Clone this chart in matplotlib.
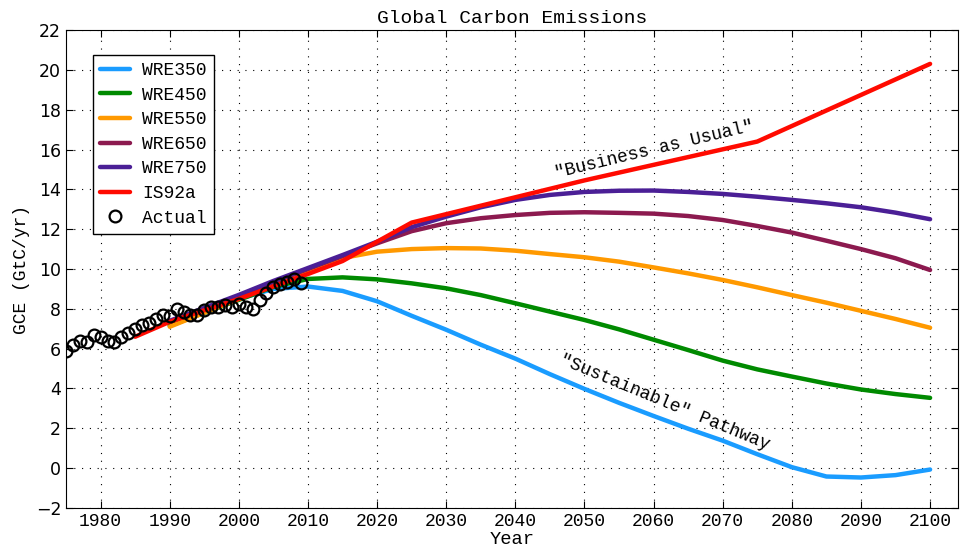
import numpy as np
import matplotlib.pyplot as plt

# emission pathways (GtC/yr), every 5 years
wre_years = np.arange(1990, 2101, 5)
wre350 = [7.2, 7.85, 8.5, 9.0, 9.12, 8.9, 8.38, 7.65, 6.95, 6.2, 5.5, 4.72,
          3.98, 3.28, 2.62, 1.98, 1.38, 0.7, 0.05, -0.42, -0.47, -0.35, -0.07]
wre450 = [7.15, 7.8, 8.45, 9.1, 9.5, 9.58, 9.48, 9.28, 9.03, 8.69, 8.28, 7.86,
          7.44, 6.97, 6.45, 5.93, 5.4, 4.96, 4.6, 4.25, 3.95, 3.72, 3.53]
wre550 = [7.1, 7.8, 8.5, 9.25, 9.95, 10.55, 10.87, 11.0, 11.05, 11.03, 10.92, 10.75,
          10.59, 10.37, 10.08, 9.78, 9.45, 9.08, 8.69, 8.31, 7.9, 7.49, 7.05]
wre650 = [7.35, 8.0, 8.65, 9.35, 10.0, 10.65, 11.29, 11.9, 12.3, 12.55, 12.71, 12.82,
          12.85, 12.82, 12.78, 12.66, 12.46, 12.16, 11.83, 11.42, 11.0, 10.54, 9.95]
wre750 = [7.4, 8.05, 8.7, 9.4, 10.05, 10.7, 11.37, 12.1, 12.63, 13.1, 13.47, 13.72,
          13.87, 13.93, 13.94, 13.87, 13.77, 13.63, 13.47, 13.3, 13.1, 12.83, 12.5]

is92a_years = [1985, 1990, 2000, 2010, 2015, 2020, 2025, 2050, 2075, 2100]
is92a = [6.6, 7.35, 8.5, 9.75, 10.4, 11.37, 12.33, 14.45, 16.4, 20.3]

actual_years = np.arange(1975, 2010)
actual = [5.89, 6.18, 6.38, 6.35, 6.68, 6.57, 6.40, 6.35, 6.57, 6.77,
          6.98, 7.19, 7.30, 7.47, 7.69, 7.64, 7.97, 7.86, 7.69, 7.70,
          7.94, 8.07, 8.10, 8.19, 8.07, 8.24, 8.10, 8.00, 8.44, 8.78,
          9.08, 9.25, 9.37, 9.48, 9.28]

mono = 'Liberation Mono'

fig = plt.figure(figsize=(9.64, 5.5), dpi=100)
ax = fig.add_axes([0.0685, 0.0764, 0.925, 0.869])

lw = 3.2
ax.plot(wre_years, wre350, color='#1a9cff', lw=lw, label='WRE350', solid_capstyle='round')
ax.plot(wre_years, wre450, color='#008a00', lw=lw, label='WRE450', solid_capstyle='round')
ax.plot(wre_years, wre550, color='#ff9900', lw=lw, label='WRE550', solid_capstyle='round')
ax.plot(wre_years, wre650, color='#8c1a4f', lw=lw, label='WRE650', solid_capstyle='round')
ax.plot(wre_years, wre750, color='#4b1f96', lw=lw, label='WRE750', solid_capstyle='round')
ax.plot(is92a_years, is92a, color='#ff0a00', lw=lw, label='IS92a', solid_capstyle='round')
ax.plot(actual_years, actual, 'o', mfc='none', mec='black', mew=1.6, ms=8.5, label='Actual')

ax.set_xlim(1975, 2104)
ax.set_ylim(-2, 22)
ax.set_xticks(np.arange(1980, 2101, 10))
ax.set_yticks(np.arange(-2, 23, 2))
ax.tick_params(direction='in', top=True, right=True, length=5, labelsize=12.5)
for lab in ax.get_xticklabels():
    lab.set_family(mono)
    lab.set_fontsize(13)
ax.grid(True, color='black', linestyle=(0, (1, 6)), linewidth=0.8)

ax.set_title('Global Carbon Emissions', family=mono, fontsize=14, pad=5)
ax.set_xlabel('Year', family=mono, fontsize=13.5, labelpad=1)
ax.set_ylabel('GCE (GtC/yr)', family=mono, fontsize=13, labelpad=4)

ax.text(2060.1, 16.0, '"Business as Usual"', family=mono, fontsize=13,
        rotation=13.5, ha='center', va='center', rotation_mode='anchor')
ax.text(2061.6, 3.3, '"Sustainable" Pathway', family=mono, fontsize=13,
        rotation=-22.5, ha='center', va='center', rotation_mode='anchor')

leg = ax.legend(loc='upper left', bbox_to_anchor=(0.03, 0.948), prop={'family': mono, 'size': 13},
                fancybox=False, framealpha=1, edgecolor='black', handlelength=1.65,
                handletextpad=0.7, borderaxespad=0, labelspacing=0.42)
leg.get_frame().set_linewidth(1.0)

fig.savefig('out.png', dpi=100)
